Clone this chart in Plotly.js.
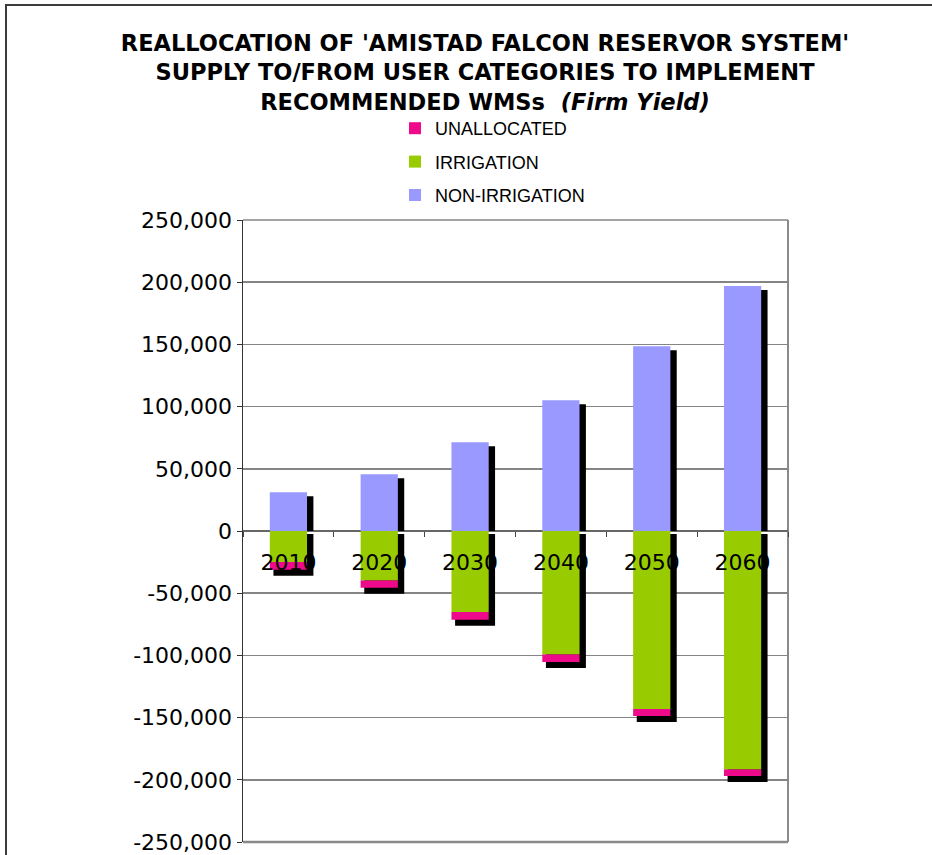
<!DOCTYPE html>
<html>
<head>
<meta charset="utf-8">
<script src="https://cdn.plot.ly/plotly-3.0.1.min.js"></script>
<style>
  html, body { margin: 0; padding: 0; background: #fff; }
  #wrap { position: relative; width: 932px; height: 855px; overflow: hidden; }
  #chart { width: 932px; height: 855px; }
  #frame { position: absolute; left: 5px; top: 4px; width: 1000px; height: 1000px;
           border-left: 2px solid #3c3c3c; border-top: 2px solid #3c3c3c; pointer-events: none; }
</style>
</head>
<body>
<div id="wrap">
  <div id="chart"></div>
  <div id="frame"></div>
</div>
<script>
// ---- data ----
const years = ['2010', '2020', '2030', '2040', '2050', '2060'];
const nonIrrigation = [31200, 45700, 71400, 105200, 148600, 197000];
const irrigation = [25000, 39500, 65200, 99000, 143000, 191500];
const unallocated = [6100, 6200, 6200, 6300, 5700, 5500];
const yTickVals = [-250000, -200000, -150000, -100000, -50000, 0, 50000, 100000, 150000, 200000, 250000];
const yTickText = ['-250,000', '-200,000', '-150,000', '-100,000', '-50,000', '0', '50,000', '100,000', '150,000', '200,000', '250,000'];
const seriesNames = ['UNALLOCATED', 'IRRIGATION', 'NON-IRRIGATION'];

// ---- styling / geometry ----
const colors = { unalloc: '#EE0A8A', irr: '#99CC00', nonirr: '#9999FF', shadow: '#000000' };
const M = { l: 243, r: 144, t: 220, b: 13 };
const plotW = 932 - M.l - M.r, plotH = 855 - M.t - M.b;
const unitsPerPx = 500000 / plotH;
const barW = 0.41, barOff = -0.205;
const shW = 0.44, shOff = -0.165;

const negTotal = irrigation.map((v, i) => v + unallocated[i]);

const traces = [];
// shadows (behind)
traces.push({
  type: 'bar', x: years, y: nonIrrigation.map(v => v - 4 * unitsPerPx), base: 0,
  width: shW, offset: shOff, marker: { color: colors.shadow }, showlegend: false, hoverinfo: 'skip'
});
traces.push({
  type: 'bar', x: years, y: negTotal.map(v => -(v + 6 * unitsPerPx - 3 * unitsPerPx)), base: -3 * unitsPerPx,
  width: shW, offset: shOff, marker: { color: colors.shadow }, showlegend: false, hoverinfo: 'skip'
});
// main series
traces.push({
  type: 'bar', name: seriesNames[0], legendgroup: 'a', x: years, y: unallocated.map(v => -v),
  base: irrigation.map(v => -v), width: barW, offset: barOff, marker: { color: colors.unalloc }
});
traces.push({
  type: 'bar', name: seriesNames[1], legendgroup: 'b', x: years, y: irrigation.map(v => -v),
  base: 0, width: barW, offset: barOff, marker: { color: colors.irr }
});
traces.push({
  type: 'bar', name: seriesNames[2], legendgroup: 'c', x: years, y: nonIrrigation,
  base: 0, width: barW, offset: barOff, marker: { color: colors.nonirr }
});

const layout = {
  width: 932, height: 855,
  margin: M,
  paper_bgcolor: '#ffffff', plot_bgcolor: '#ffffff',
  barmode: 'overlay',
  title: {
    text: "REALLOCATION OF 'AMISTAD FALCON RESERVOR SYSTEM'<br>SUPPLY TO/FROM USER CATEGORIES TO IMPLEMENT<br>RECOMMENDED WMSs\u00A0 <i>(Firm Yield)</i>",
    font: { family: 'DejaVu Sans', size: 22.5, color: '#000', weight: 'bold' },
    x: 485 / 932, xref: 'container', xanchor: 'center',
    y: 1 - 51 / 855, yref: 'container', yanchor: 'top'
  },
  showlegend: true,
  legend: {
    x: (395 - M.l) / plotW, xref: 'paper', xanchor: 'left',
    y: (855 - M.b - 110) / plotH, yref: 'paper', yanchor: 'top',
    traceorder: 'grouped', tracegroupgap: 7,
    font: { family: 'Liberation Sans', size: 18, color: '#000' },
    bgcolor: 'rgba(0,0,0,0)', borderwidth: 0
  },
  xaxis: {
    type: 'category', categoryorder: 'array', categoryarray: years,
    anchor: 'free', position: 0.5,
    showgrid: false, showline: false, zeroline: false,
    ticks: 'outside', tickson: 'boundaries', ticklen: 5, tickcolor: '#444', tickwidth: 1,
    ticklabelstandoff: 16, tickangle: 0,
    tickfont: { family: 'DejaVu Sans', size: 22, color: '#000' },
    fixedrange: true, automargin: false
  },
  yaxis: {
    range: [-250000, 250000], tickmode: 'array', tickvals: yTickVals, ticktext: yTickText,
    showgrid: true, gridcolor: '#858585', gridwidth: 1.5,
    zeroline: true, zerolinecolor: '#666666', zerolinewidth: 1.5,
    showline: true, linecolor: '#333333', linewidth: 1.5,
    ticks: 'outside', ticklen: 5, tickcolor: '#333333', tickwidth: 1,
    tickfont: { family: 'DejaVu Sans', size: 22, color: '#000' },
    fixedrange: true, automargin: false
  },
  shapes: [
    { type: 'line', xref: 'paper', yref: 'paper', x0: 1, x1: 1, y0: 0, y1: 1,
      line: { color: '#8a8a8a', width: 2 }, layer: 'below' },
    { type: 'line', xref: 'paper', yref: 'paper', x0: 0, x1: 1, y0: 0, y1: 0,
      line: { color: '#8a8a8a', width: 2.5 }, layer: 'below' },
    { type: 'line', xref: 'paper', yref: 'paper', x0: 0, x1: 1, y0: 1, y1: 1,
      line: { color: '#858585', width: 1.5 }, layer: 'below' }
  ]
};

Plotly.newPlot('chart', traces, layout, { displayModeBar: false, staticPlot: true });
</script>
</body>
</html>
